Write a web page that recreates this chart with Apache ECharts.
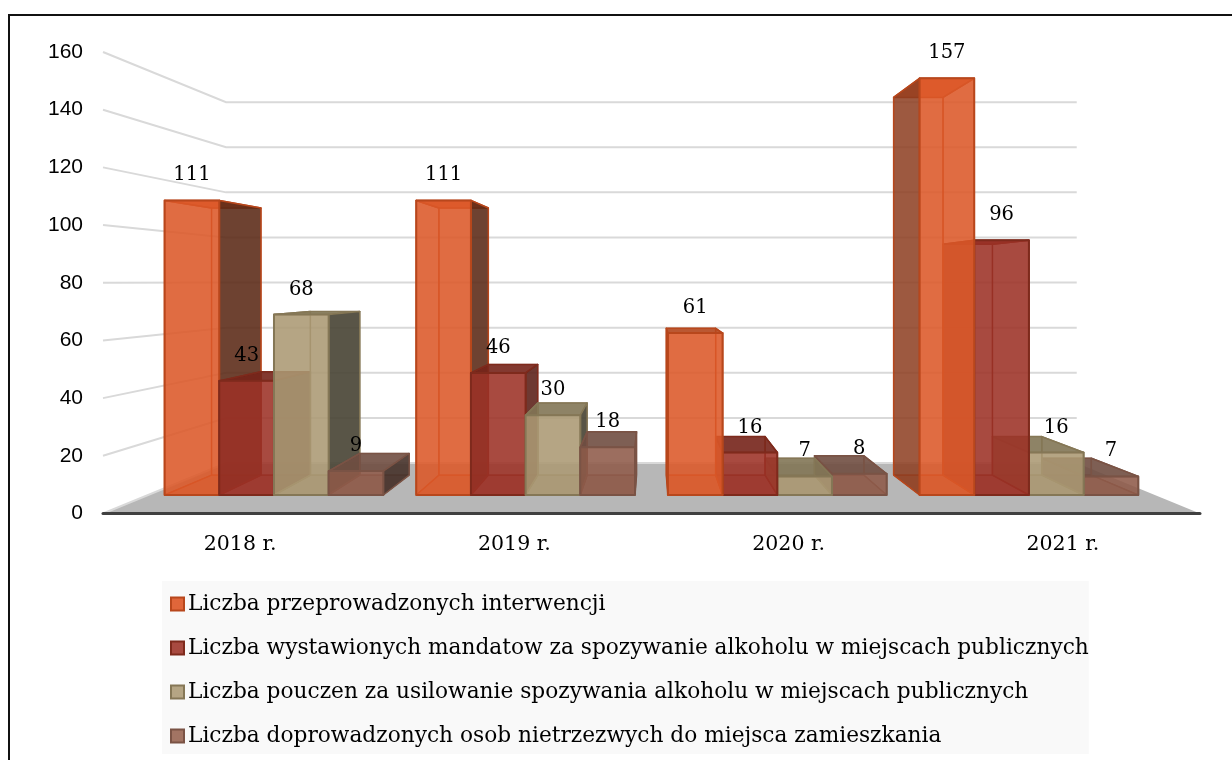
<!DOCTYPE html>
<html>
<head>
    <meta charset="utf-8">
    <title>Interwencje</title>
    <style>
        html, body { margin: 0; padding: 0; background: #fff; }
        #charts { width: 1232px; height: 760px; }
    </style>
</head>
<body>
<div id="charts"></div>
<script src="https://cdn.jsdelivr.net/npm/echarts@6/dist/echarts.min.js"></script>
<script>
    var categories = ['2018 r.', '2019 r.', '2020 r.', '2021 r.'];
    var yTicks = [0, 20, 40, 60, 80, 100, 120, 140, 160];
    var seriesNames = [
        'Liczba przeprowadzonych interwencji',
        'Liczba wystawionych mandatow za spozywanie alkoholu w miejscach publicznych',
        'Liczba pouczen za usilowanie spozywania alkoholu w miejscach publicznych',
        'Liczba doprowadzonych osob nietrzezwych do miejsca zamieszkania'
    ];
    var interwencje = [111, 111, 61, 157];
    var mandaty = [43, 46, 16, 96];
    var pouczenia = [68, 30, 7, 16];
    var doprowadzenia = [9, 18, 8, 7];
    var seriesValues = [interwencje, mandaty, pouczenia, doprowadzenia];

    // kolory scian slupkow
    var palette = [
        {front: 'rgba(220,88,40,0.88)', edge: '#b8471c', right: 'rgba(90,40,20,0.88)', left: 'rgba(140,60,30,0.85)', top: 'rgba(180,70,28,0.9)', floor: 'rgba(205,80,30,0.35)', solid: '#e0663a'},
        {front: 'rgba(156,49,38,0.88)', edge: '#7e2a1c', right: 'rgba(90,30,22,0.88)', left: 'rgba(130,45,35,0.85)', top: 'rgba(118,35,26,0.9)', floor: 'rgba(140,40,30,0.35)', solid: '#a84a40'},
        {front: 'rgba(171,152,115,0.88)', edge: '#857756', right: 'rgba(75,70,55,0.92)', left: 'rgba(130,118,85,0.85)', top: 'rgba(130,117,85,0.9)', floor: 'rgba(150,132,95,0.35)', solid: '#b5a584'},
        {front: 'rgba(142,90,73,0.88)', edge: '#7a5345', right: 'rgba(70,50,42,0.9)', left: 'rgba(110,75,62,0.85)', top: 'rgba(112,78,65,0.9)', floor: 'rgba(125,80,65,0.35)', solid: '#a27463'}
    ];

    // perspektywa: punkt zbiegu i glebokosci (1 = przod osi)
    var vpX = 651, vpY = 282;
    var backS = 0.782, barFrontS = 0.92, barBackS = 0.834;
    var depthX = 1.03;
    var barW = 59.6;
    var tallTop = 200;

    function project(X, Y, s) {
        var xs = 1 - (1 - s) * depthX;
        return [vpX + (X - vpX) * xs, vpY + (Y - vpY) * s];
    }
    function face(points, fill, stroke, lw, z2) {
        return {
            type: 'polygon',
            z2: z2,
            shape: {points: points},
            style: {fill: fill, stroke: stroke, lineWidth: lw, lineJoin: 'round'}
        };
    }

    function renderBar(params, api) {
        var si = params.seriesIndex - 2;
        var c = palette[si];
        var cat = api.value(0);
        var base = api.coord([cat, 0]);
        var topPt = api.coord([cat, api.value(1)]);
        var x0 = base[0] - 2 * barW + si * barW;
        var x1 = x0 + barW;
        var y0 = base[1], y1 = topPt[1];

        var fbl = project(x0, y0, barFrontS), fbr = project(x1, y0, barFrontS);
        var ftl = project(x0, y1, barFrontS), ftr = project(x1, y1, barFrontS);
        var bbl = project(x0, y0, barBackS), bbr = project(x1, y0, barBackS);
        var btl = project(x0, y1, barBackS), btr = project(x1, y1, barBackS);

        // na prawo od punktu zbiegu rysujemy od prawej do lewej
        var order = cat >= 2 ? 3 - si : si;
        var z = 10 + order * 10;
        var hidden = 'rgba(255,255,255,0)';

        return {
            type: 'group',
            children: [
                face([bbl, bbr, fbr, fbl], c.floor, c.edge, 1, z),
                face([bbl, bbr, btr, btl], 'rgba(255,255,255,0.05)', c.edge, 1, z + 1),
                face([ftl, ftr, btr, btl], y1 < tallTop ? c.front : c.top, c.edge, 1.5, z + 2),
                face([fbl, bbl, btl, ftl], x0 > vpX ? c.left : hidden, c.edge, 1.5, z + 3),
                face([fbr, bbr, btr, ftr], x1 < vpX ? c.right : hidden, c.edge, 1.5, z + 4),
                face([fbl, fbr, ftr, ftl], c.front, c.edge, 2, z + 5)
            ]
        };
    }

    function renderGridLine(params, api) {
        var v = api.value(0);
        var p = api.coord([0, v]);
        var left = params.coordSys.x;
        var right = left + params.coordSys.width;
        var a = [left, p[1]];
        var b = project(left, p[1], backS);
        var d = project(right, p[1], backS);
        return {
            type: 'polyline',
            z2: 2,
            shape: {points: [a, b, d]},
            style: {fill: 'none', stroke: '#d9d9d9', lineWidth: 2}
        };
    }

    function renderFloor(params, api) {
        var left = params.coordSys.x;
        var right = left + params.coordSys.width;
        var y = api.coord([0, 0])[1];
        return {
            type: 'polygon',
            z2: 1,
            shape: {points: [[left, y], project(left, y, backS), project(right, y, backS), [right, y]]},
            style: {fill: '#b7b7b7'}
        };
    }

    function renderLabel(params, api) {
        var si = api.value(2);
        var cat = api.value(0);
        var base = api.coord([cat, 0]);
        var topPt = api.coord([cat, api.value(1)]);
        var x0 = base[0] - 2 * barW + si * barW;
        var p = project(x0 + barW / 2, topPt[1], barFrontS);
        return {
            type: 'text',
            z2: 200,
            style: {
                x: p[0],
                y: p[1] - 25,
                text: String(api.value(1)),
                fill: '#000',
                font: '19.5px "DejaVu Serif"',
                align: 'center',
                verticalAlign: 'middle'
            }
        };
    }

    var series = [
        {type: 'custom', name: 'floor', silent: true, clip: false, renderItem: renderFloor, data: [[0]]},
        {type: 'custom', name: 'wall', silent: true, clip: false, renderItem: renderGridLine, encode: {y: 0}, data: yTicks.map(function (v) { return [v]; })}
    ];
    seriesNames.forEach(function (name, si) {
        series.push({
            type: 'custom',
            name: name,
            clip: false,
            renderItem: renderBar,
            itemStyle: {color: palette[si].solid, borderColor: palette[si].edge, borderWidth: 2},
            encode: {x: 0, y: 1},
            data: seriesValues[si].map(function (v, i) { return [i, v]; })
        });
    });
    var labelData = [];
    seriesValues.forEach(function (vals, si) {
        vals.forEach(function (v, i) { labelData.push([i, v, si]); });
    });
    series.push({type: 'custom', name: 'labels', silent: true, clip: false, z: 5, renderItem: renderLabel, encode: {x: 0, y: 1}, data: labelData});

    var myChart = echarts.init(document.getElementById('charts'));
    var option = {
        animation: false,
        backgroundColor: '#fff',
        grid: {left: 103, right: 32, top: 52, bottom: 246.5},
        xAxis: {
            type: 'category',
            data: categories,
            z: 5,
            axisTick: {show: false},
            axisLine: {lineStyle: {color: '#404040', width: 3}},
            axisLabel: {color: '#000', fontSize: 20.5, fontFamily: 'DejaVu Serif', margin: 21}
        },
        yAxis: {
            type: 'value',
            min: 0,
            max: 160,
            interval: 20,
            axisLine: {show: false},
            axisTick: {show: false},
            splitLine: {show: false},
            axisLabel: {color: '#000', fontSize: 21, fontFamily: 'Liberation Sans', margin: 20}
        },
        legend: {
            left: 162,
            top: 581,
            orient: 'vertical',
            data: seriesNames,
            selectedMode: false,
            backgroundColor: '#f9f9f9',
            padding: [12, 0, 7, 8],
            itemWidth: 13,
            itemHeight: 13,
            itemGap: 22,
            icon: 'rect',
            textStyle: {color: '#000', fontSize: 21.7, lineHeight: 22, fontFamily: 'DejaVu Serif', padding: [0, 0, 0, -1]}
        },
        graphic: [{
            type: 'polyline',
            silent: true,
            shape: {points: [[9, 760], [9, 15], [1232, 15]]},
            style: {fill: 'none', stroke: '#111', lineWidth: 2}
        }],
        series: series
    };
    myChart.setOption(option);
</script>
</body>
</html>
